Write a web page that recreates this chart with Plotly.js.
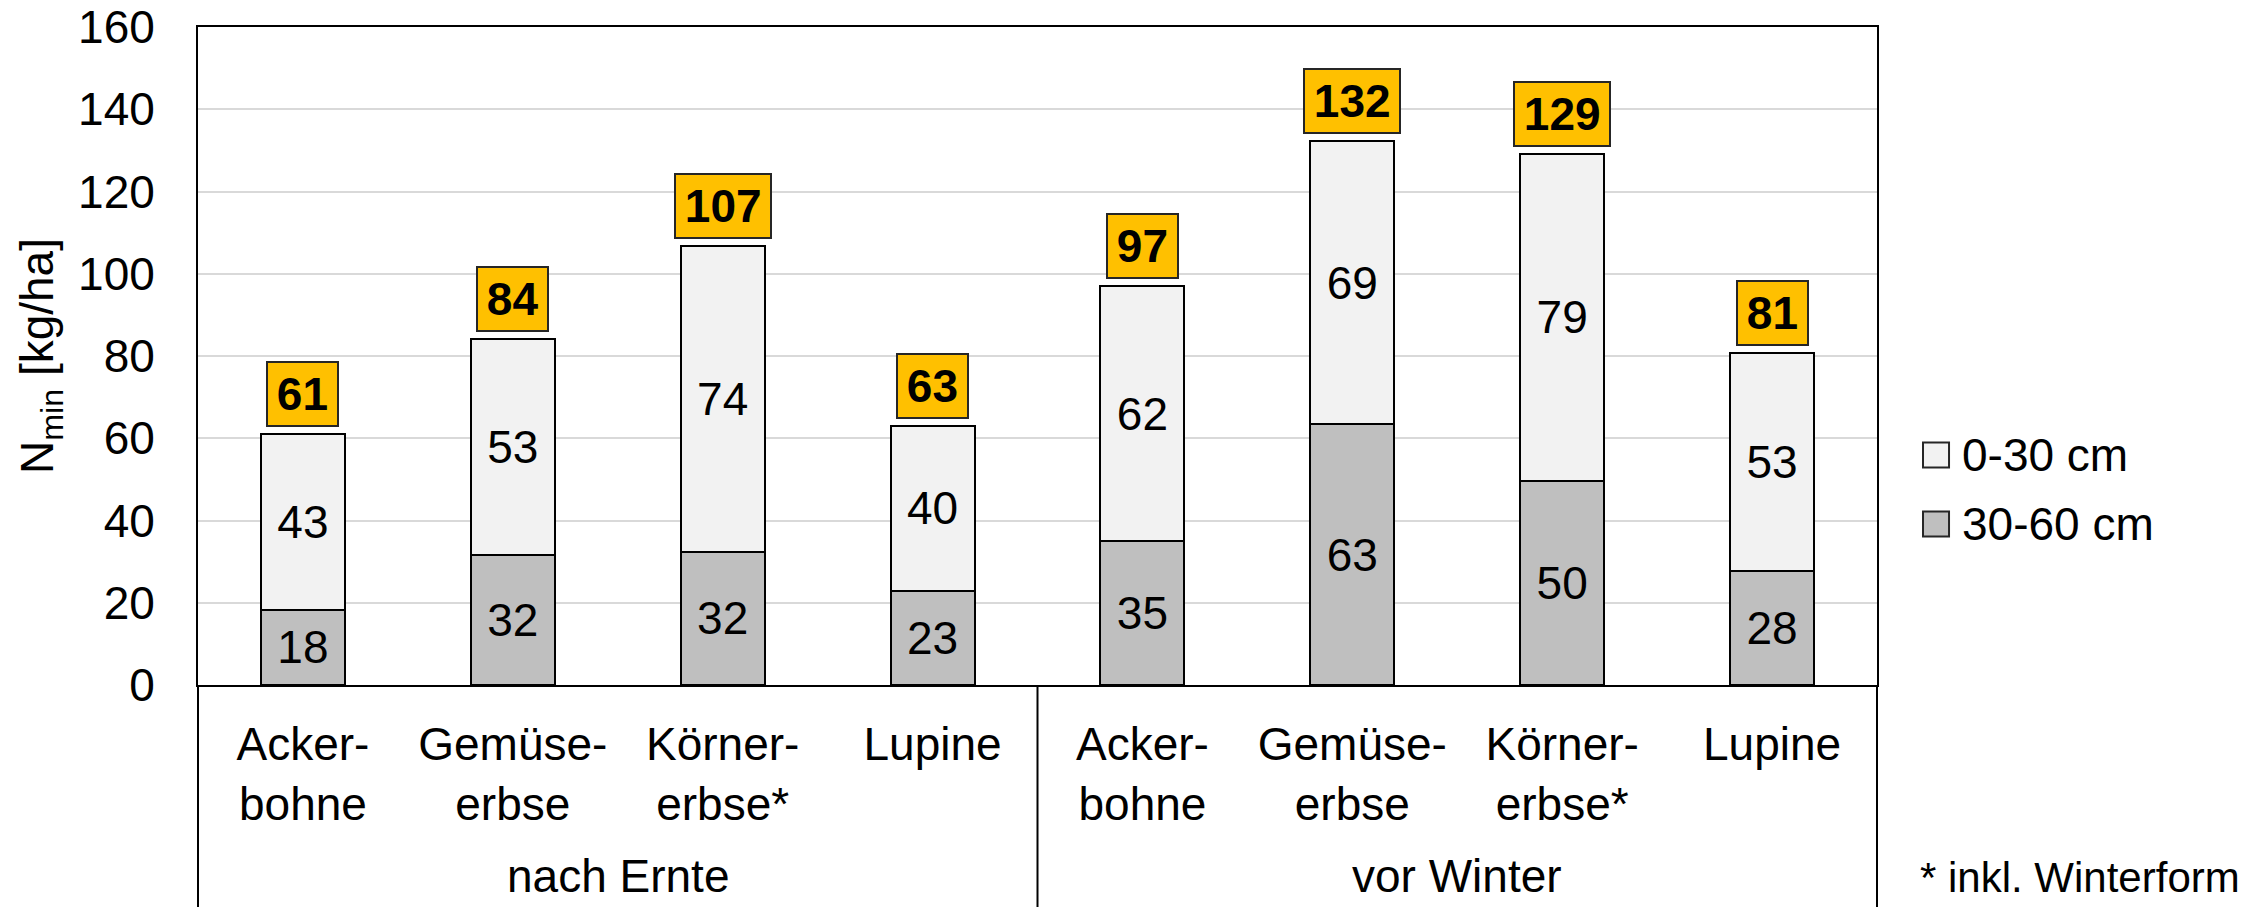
<!DOCTYPE html>
<html>
<head>
<meta charset="utf-8">
<script src="https://cdn.plot.ly/plotly-3.0.1.min.js"></script>
<style>html,body{margin:0;padding:0;background:#fff;}#chart{width:2267px;height:907px;}</style>
</head>
<body>
<div id="chart"></div>
<script>
// ---- data ----
const groups = ['nach Ernte', 'nach Ernte', 'nach Ernte', 'nach Ernte', 'vor Winter', 'vor Winter', 'vor Winter', 'vor Winter'];
const crops = ['Acker-<br>bohne', 'Gemüse-<br>erbse', 'Körner-<br>erbse*', 'Lupine', 'Acker-<br>bohne', 'Gemüse-<br>erbse', 'Körner-<br>erbse*', 'Lupine'];
const depth30_60 = [18.3, 31.6, 32.4, 22.9, 34.9, 63.4, 49.7, 27.8];
const depth0_30 = [42.7, 52.6, 74.4, 40.2, 62.2, 68.8, 79.4, 53.0];
const seriesNames = ['30-60 cm', '0-30 cm'];
const groupNames = ['nach Ernte', 'vor Winter'];
const yTicks = [0, 20, 40, 60, 80, 100, 120, 140, 160];
const footnote = '* inkl. Winterform';

const FONT = 'Liberation Sans, Arial, sans-serif';
const FS = 46;

// unique category keys (group + crop), displayed with the crop name only
const keys = groups.map((g, i) => g + ' | ' + crops[i]);
const totals = depth0_30.map((v, i) => v + depth30_60[i]);

const traces = [
  {
    type: 'bar', name: seriesNames[0], x: keys, y: depth30_60,
    marker: {color: '#BFBFBF', line: {color: '#000000', width: 2}},
    text: depth30_60.map(v => String(Math.round(v))),
    textposition: 'inside', insidetextanchor: 'middle', constraintext: 'none',
    textfont: {family: FONT, size: FS, color: '#000000'},
    showlegend: false, hoverinfo: 'y'
  },
  {
    type: 'bar', name: seriesNames[1], x: keys, y: depth0_30,
    marker: {color: '#F2F2F2', line: {color: '#000000', width: 2}},
    text: depth0_30.map(v => String(Math.round(v))),
    textposition: 'inside', insidetextanchor: 'middle', constraintext: 'none',
    textfont: {family: FONT, size: FS, color: '#000000'},
    showlegend: false, hoverinfo: 'y'
  }
];

const annotations = totals.map((t, i) => ({
  xref: 'x', yref: 'y', x: keys[i], y: t, yanchor: 'bottom', yshift: 7,
  text: '<b>&#8202;' + Math.round(t) + '&#8202;</b>', showarrow: false,
  font: {family: FONT, size: FS, color: '#000000'},
  bgcolor: '#FFC000', bordercolor: '#262626', borderwidth: 2, borderpad: 5
}));

// group labels centred under each group of four categories
groupNames.forEach((g, gi) => {
  annotations.push({xref: 'x', yref: 'paper', x: gi * 4 + 1.5, y: -0.2903, xanchor: 'center', yanchor: 'middle',
    text: g, showarrow: false, font: {family: FONT, size: FS, color: '#000000'}});
});

// legend (drawn manually for large swatches)
const legendRows = [
  {name: seriesNames[1], color: '#F2F2F2', yc: 0.3495},
  {name: seriesNames[0], color: '#BFBFBF', yc: 0.2447}
];
const shapes = [];
legendRows.forEach(r => {
  shapes.push({type: 'rect', xref: 'paper', yref: 'paper', x0: 1.0274, x1: 1.0429,
    y0: r.yc - 0.019, y1: r.yc + 0.019, fillcolor: r.color, line: {color: '#262626', width: 2}});
  annotations.push({xref: 'paper', yref: 'paper', x: 1.0494, y: r.yc, xanchor: 'left', yanchor: 'middle',
    text: r.name, showarrow: false, font: {family: FONT, size: FS, color: '#000000'}});
});
annotations.push({xref: 'paper', yref: 'paper', x: 1.0244, y: -0.2933, xanchor: 'left', yanchor: 'middle',
  text: footnote, showarrow: false, font: {family: FONT, size: 42, color: '#000000'}});

// frame lines below the plot area
[0, 0.5, 1].forEach(xp => {
  shapes.push({type: 'line', xref: 'paper', yref: 'paper', x0: xp, x1: xp, y0: 0, y1: -0.36,
    line: {color: '#000000', width: 2}});
});

const layout = {
  width: 2267, height: 907,
  margin: {l: 198, r: 390, t: 27, b: 222},
  paper_bgcolor: '#ffffff', plot_bgcolor: '#ffffff',
  barmode: 'stack', bargap: 0.6,
  font: {family: FONT, size: FS, color: '#000000'},
  showlegend: false,
  xaxis: {
    type: 'category', tickvals: keys, ticktext: crops,
    showline: true, linecolor: '#000000', linewidth: 2, mirror: true,
    ticks: '', showgrid: false,
    tickfont: {family: FONT, size: FS, color: '#000000'},
    ticklabelstandoff: 18
  },
  yaxis: {
    range: [0, 160], tickvals: yTicks, ticktext: yTicks.map(String),
    showline: true, linecolor: '#000000', linewidth: 2, mirror: true,
    showgrid: true, gridcolor: '#D9D9D9', gridwidth: 2, zeroline: false,
    ticks: '', ticklabelstandoff: 32,
    tickfont: {family: FONT, size: FS, color: '#000000'},
    title: {text: 'N<sub>min</sub> [kg/ha]', font: {family: FONT, size: FS, color: '#000000'}, standoff: 10}
  },
  annotations: annotations,
  shapes: shapes
};

Plotly.newPlot('chart', traces, layout, {displayModeBar: false, staticPlot: true});
</script>
</body>
</html>
